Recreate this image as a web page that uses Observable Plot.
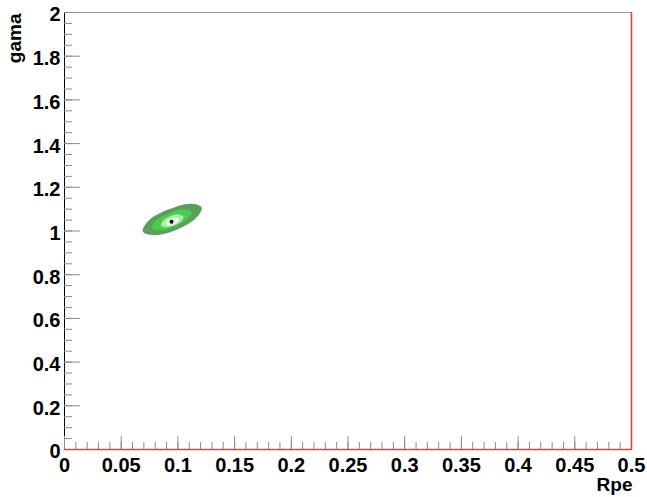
<!DOCTYPE html>
<html><head><meta charset="utf-8">
<script src="https://cdn.jsdelivr.net/npm/d3@7"></script>
<script src="https://cdn.jsdelivr.net/npm/@observablehq/plot@0.6"></script>
<style>body{margin:0;background:#fff}svg{display:block}</style>
</head><body><div id="chart"></div>
<script>
// Axis ticks and labels
const xTicks = [0, 0.05, 0.1, 0.15, 0.2, 0.25, 0.3, 0.35, 0.4, 0.45, 0.5];
const xTickLabels = ["0", "0.05", "0.1", "0.15", "0.2", "0.25", "0.3", "0.35", "0.4", "0.45", "0.5"];
const yTicks = [0, 0.2, 0.4, 0.6, 0.8, 1, 1.2, 1.4, 1.6, 1.8, 2];
const yTickLabels = ["0", "0.2", "0.4", "0.6", "0.8", "1", "1.2", "1.4", "1.6", "1.8", "2"];
const xMinor = d3.range(0, 0.5001, 0.01);
const yMinor = d3.range(0, 2.0001, 0.05);

// Contour outlines (Rpe, gama)
const outerRpe  = [0.121, 0.116, 0.099, 0.079, 0.069, 0.074, 0.092, 0.111];
const outerGama = [1.108, 1.059, 1.006, 0.981, 0.998, 1.047, 1.099, 1.125];
const midRpe    = [0.112, 0.108, 0.097, 0.084, 0.077, 0.080, 0.092, 0.105];
const midGama   = [1.087, 1.055, 1.021, 1.003, 1.013, 1.045, 1.080, 1.098];
const lightRpe  = [0.105, 0.103, 0.0965, 0.089, 0.085, 0.0867, 0.093, 0.1005];
const lightGama = [1.066, 1.045, 1.025, 1.016, 1.025, 1.046, 1.067, 1.076];
const innerRpe  = [0.101, 0.100, 0.0964, 0.092, 0.0895, 0.0904, 0.0941, 0.0985];
const innerGama = [1.055, 1.042, 1.029, 1.024, 1.032, 1.045, 1.058, 1.062];
const bestRpe = [0.0944];
const bestGama = [1.042];

// Boundary line (red)
const boundaryRpe = [0, 0.5, 0.5];
const boundaryGama = [0, 0, 2];

const pts = (xs, ys) => xs.map((x, i) => ({x, y: ys[i]}));
const contours = [
  {p: pts(outerRpe, outerGama), fill: "#5c9f5c"},
  {p: pts(midRpe, midGama), fill: "#4dcb4d"},
  {p: pts(lightRpe, lightGama), fill: "#a8eea8"},
  {p: pts(innerRpe, innerGama), fill: "#e6fbe6"}
];

const W = 647, H = 497, mL = 64, mR = 16, mT = 12, mB = 48;
const iW = W - mL - mR, iH = H - mT - mB;
const tickColor = "#8c8c8c";

const chart = Plot.plot({
  width: W, height: H,
  marginLeft: mL, marginRight: mR, marginTop: mT, marginBottom: mB,
  x: {domain: [0, 0.5]},
  y: {domain: [0, 2]},
  style: {fontFamily: "'Liberation Sans', Arial, sans-serif", fontWeight: "bold", background: "#fff", color: "#000"},
  marks: [
    ...contours.map(c => Plot.line(c.p, {x: "x", y: "y", curve: "catmull-rom-closed", fill: c.fill, stroke: "none"})),
    Plot.dot(pts(bestRpe, bestGama), {x: "x", y: "y", r: 2, fill: "#000", stroke: "none"}),
    Plot.ruleY([2], {stroke: "#9a9a9a"}),
    Plot.ruleX([0], {stroke: "#000"}),
    Plot.tickX(xMinor, {insetTop: iH - 7, stroke: tickColor}),
    Plot.tickX(xTicks, {insetTop: iH - 13, stroke: tickColor}),
    Plot.tickY(yMinor, {insetRight: iW - 8, stroke: tickColor}),
    Plot.tickY(yTicks, {insetRight: iW - 16, stroke: tickColor}),
    Plot.line(pts(boundaryRpe, boundaryGama), {x: "x", y: "y", stroke: "#f03c3c", strokeWidth: 1.6}),
    Plot.axisX({ticks: xTicks, tickSize: 0, tickPadding: 8, tickFormat: d => xTickLabels[xTicks.indexOf(d)], fontSize: 20, label: null}),
    Plot.axisY({ticks: yTicks, tickSize: 0, tickPadding: 4, dy: 2.5, tickFormat: d => yTickLabels[yTicks.indexOf(d)], fontSize: 20, label: null}),
    Plot.text(["gama"], {frameAnchor: "top-left", text: d => d, rotate: -90, textAnchor: "end", lineAnchor: "bottom", dx: -44, dy: 1, fontSize: 19}),
    Plot.text(["Rpe"], {frameAnchor: "bottom-right", text: d => d, textAnchor: "end", lineAnchor: "bottom", dx: 1, dy: 41, fontSize: 19})
  ]
});
document.getElementById("chart").appendChild(chart);
</script>
</body></html>
